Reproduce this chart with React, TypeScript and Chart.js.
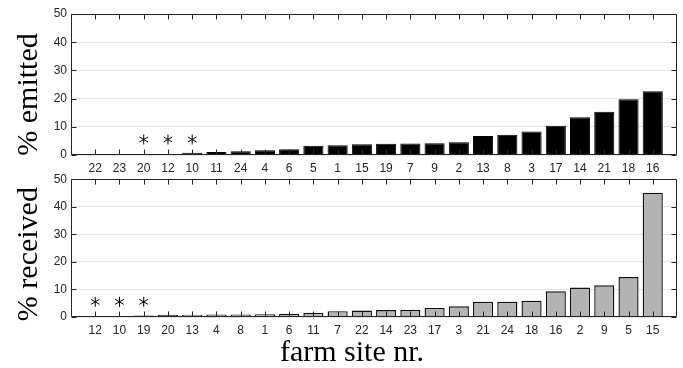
import React, { useEffect, useRef } from 'react';
import { Chart, registerables } from 'chart.js';

Chart.register(...registerables);

// ---- data ----
const emittedSites = ['22', '23', '20', '12', '10', '11', '24', '4', '6', '5', '1', '15', '19', '7', '9', '2', '13', '8', '3', '17', '14', '21', '18', '16'];
const emittedValues = [0.05, 0.05, 0.1, 0.2, 0.8, 1.05, 1.3, 1.65, 2.0, 3.3, 3.5, 3.8, 4.0, 4.1, 4.2, 4.5, 6.7, 7.2, 8.35, 10.35, 13.4, 15.3, 19.8, 22.6];
const emittedStarred = ['20', '12', '10'];

const receivedSites = ['12', '10', '19', '20', '13', '4', '8', '1', '6', '11', '7', '22', '14', '23', '17', '3', '21', '24', '18', '16', '2', '9', '5', '15'];
const receivedValues = [0.35, 0.35, 0.5, 0.8, 0.85, 0.95, 0.95, 1.0, 1.2, 1.5, 2.1, 2.35, 2.5, 2.6, 3.3, 3.9, 5.5, 5.5, 5.9, 9.3, 10.7, 11.5, 14.5, 45.1];
const receivedStarred = ['12', '10', '19'];

const yTicks = [0, 10, 20, 30, 40, 50];
const starLevel = 5.5;

const emittedTitle = '% emitted';
const receivedTitle = '% received';
const xTitle = 'farm site nr.';

const W = 683;
const TICK_FONT = { family: '"Liberation Sans", Arial, sans-serif', size: 12 };
const TITLE_FONT = '30px "Liberation Serif", "Times New Roman", serif';

const decoPlugin = {
  id: 'deco',
  afterDatasetsDraw(chart: any, _args: any, opts: any) {
    const { ctx, chartArea: a, scales } = chart;
    const xs = scales.x;
    const ys = scales.y;
    const labels: string[] = chart.data.labels;
    ctx.save();
    ctx.strokeStyle = '#262626';
    ctx.lineWidth = 1;
    const L = Math.round(a.left) + 0.5;
    const R = Math.round(a.right) - 0.5;
    const T = Math.round(a.top) + 0.5;
    const B = Math.round(a.bottom) - 0.5;
    ctx.beginPath();
    ctx.rect(L, T, R - L, B - T);
    labels.forEach((lab, i) => {
      if (lab === '') return;
      const px = Math.round(xs.getPixelForValue(i)) + 0.5;
      ctx.moveTo(px, T);
      ctx.lineTo(px, T + 5);
      ctx.moveTo(px, B);
      ctx.lineTo(px, B - 5);
    });
    yTicks.forEach((v) => {
      const py = Math.round(ys.getPixelForValue(v)) + 0.5;
      ctx.moveTo(L, py);
      ctx.lineTo(L + 5, py);
      ctx.moveTo(R, py);
      ctx.lineTo(R - 5, py);
    });
    ctx.stroke();

    // asterisks
    ctx.strokeStyle = '#000';
    ctx.lineWidth = 1;
    const r = 5;
    (opts.starred || []).forEach((site: string) => {
      const idx = labels.indexOf(site);
      if (idx < 0) return;
      const cx = xs.getPixelForValue(idx);
      const cy = ys.getPixelForValue(starLevel);
      ctx.beginPath();
      [90, 30, 150].forEach((deg) => {
        const t = (deg * Math.PI) / 180;
        ctx.moveTo(cx - r * Math.cos(t), cy - r * Math.sin(t));
        ctx.lineTo(cx + r * Math.cos(t), cy + r * Math.sin(t));
      });
      ctx.stroke();
    });

    // titles
    ctx.fillStyle = '#000';
    ctx.font = TITLE_FONT;
    if (opts.yTitle) {
      ctx.save();
      ctx.translate(37, (a.top + a.bottom) / 2 + opts.yTitleDy);
      ctx.rotate(-Math.PI / 2);
      ctx.textAlign = 'center';
      ctx.textBaseline = 'alphabetic';
      ctx.fillText(opts.yTitle, 0, 0);
      ctx.restore();
    }
    if (opts.xTitle) {
      ctx.textAlign = 'center';
      ctx.textBaseline = 'alphabetic';
      ctx.fillText(opts.xTitle, opts.xTitleX, opts.xTitleY);
    }
    ctx.restore();
  },
};

function makeConfig(
  sites: string[],
  values: number[],
  fill: string,
  border: string,
  borderW: number,
  starred: string[],
  padTop: number,
  xAxisH: number,
  yTitle: string,
  yTitleDy: number,
  xT: string | null,
  xTitleY: number
): any {
  const labels = ['', ...sites, ''];
  const data = [null, ...values, null];
  return {
    type: 'bar',
    data: {
      labels,
      datasets: [
        {
          data,
          backgroundColor: fill,
          borderColor: border,
          borderWidth: borderW,
          barPercentage: 0.83,
          categoryPercentage: 1,
        },
      ],
    },
    options: {
      animation: false,
      responsive: false,
      maintainAspectRatio: false,
      events: [],
      layout: { padding: { top: padTop, right: 5, left: 0, bottom: 0 } },
      plugins: {
        legend: { display: false },
        tooltip: { enabled: false },
        deco: {
          starred,
          yTitle,
          yTitleDy,
          xTitle: xT,
          xTitleX: 352,
          xTitleY,
        },
      },
      scales: {
        x: {
          type: 'category',
          offset: false,
          grid: { display: false, drawTicks: false },
          border: { display: false },
          ticks: {
            autoSkip: false,
            maxRotation: 0,
            minRotation: 0,
            padding: 6,
            color: '#262626',
            font: TICK_FONT,
          },
          afterFit(s: any) {
            s.height = xAxisH;
          },
        },
        y: {
          min: 0,
          max: 50,
          ticks: {
            stepSize: 10,
            padding: 4,
            color: '#262626',
            font: TICK_FONT,
          },
          grid: { color: '#e6e6e6', drawTicks: false, lineWidth: 1 },
          border: { display: false },
          afterFit(s: any) {
            s.width = 71;
          },
        },
      },
    },
    plugins: [decoPlugin],
  };
}

function ChartCanvas({ config, height, top }: { config: any; height: number; top: number }) {
  const ref = useRef<HTMLCanvasElement | null>(null);
  useEffect(() => {
    if (!ref.current) return;
    const chart = new Chart(ref.current, config);
    return () => chart.destroy();
  }, [config]);
  return (
    <canvas
      ref={ref}
      width={W}
      height={height}
      style={{ position: 'absolute', left: 0, top, width: W, height }}
    />
  );
}

const topConfig = makeConfig(emittedSites, emittedValues, '#000000', '#000000', 1, emittedStarred, 14, 25, emittedTitle, 10, null, 0);
const bottomConfig = makeConfig(receivedSites, receivedValues, '#b3b3b3', '#111111', 1.4, receivedStarred, 7, 51, receivedTitle, 6, xTitle, 193);

export default function App() {
  return (
    <div style={{ position: 'absolute', left: 0, top: 0, width: W, height: 368, background: '#fff' }}>
      <ChartCanvas config={topConfig} height={180} top={0} />
      <ChartCanvas config={bottomConfig} height={200} top={168} />
    </div>
  );
}
